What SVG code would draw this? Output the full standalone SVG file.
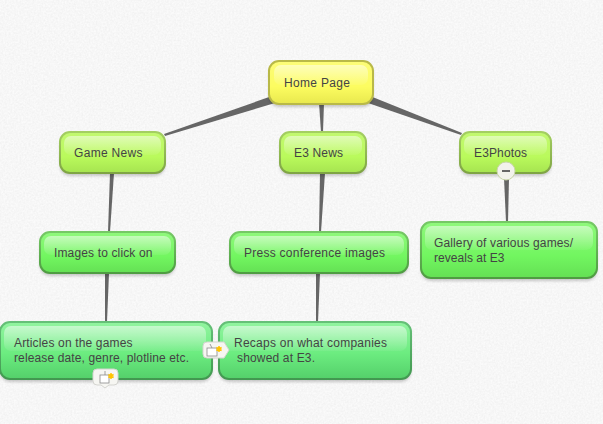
<svg xmlns="http://www.w3.org/2000/svg" width="603" height="424" viewBox="0 0 603 424">
<style>
text{font-family:"Liberation Sans",Arial,sans-serif;font-size:12px;fill:#444}
.sh{fill:#000;opacity:.2;filter:url(#blur)}
.gl{fill:url(#gloss)}
.yl{fill:url(#yellow);stroke:#b9b948;stroke-width:2}
.lm{fill:url(#lime);stroke:url(#limeS);stroke-width:2}
.gr{fill:url(#green);stroke:url(#greenS);stroke-width:2}
.dg{fill:url(#deep);stroke:url(#deepS);stroke-width:2}
.conn{fill:#666}
.tag{fill:#f6f6f2;stroke:#d4d4d0;stroke-width:1}
.ic{fill:#fff;stroke:#8a8a8a;stroke-width:.8}
.st{fill:none;stroke:#ffc400;stroke-width:1.5}
</style>
<defs>
<filter id="blur" x="-10%" y="-20%" width="120%" height="140%"><feGaussianBlur stdDeviation="1.800"/></filter>
<filter id="paper" x="0" y="0" width="100%" height="100%"><feTurbulence type="fractalNoise" baseFrequency=".55" numOctaves="2" seed="4"/><feColorMatrix values="0 0 0 0 .55  0 0 0 0 .55  0 0 0 0 .55  .28 0 0 0 -.06"/></filter>
<linearGradient id="yellow" x1="0" y1="0" x2="0" y2="1"><stop offset="0" stop-color="#fcfc78"/><stop offset=".6" stop-color="#fcfc60"/><stop offset="1" stop-color="#e8e84e"/></linearGradient>
<linearGradient id="lime" x1="0" y1="0" x2="0" y2="1"><stop offset="0" stop-color="#c2f870"/><stop offset=".6" stop-color="#bafa5c"/><stop offset="1" stop-color="#a6e450"/></linearGradient>
<linearGradient id="limeS" x1="0" y1="0" x2="0" y2="1"><stop offset="0" stop-color="#a4cf62"/><stop offset="1" stop-color="#7fa444"/></linearGradient>
<linearGradient id="green" x1="0" y1="0" x2="0" y2="1"><stop offset="0" stop-color="#90f87c"/><stop offset=".6" stop-color="#72f660"/><stop offset="1" stop-color="#64e054"/></linearGradient>
<linearGradient id="greenS" x1="0" y1="0" x2="0" y2="1"><stop offset="0" stop-color="#76c866"/><stop offset="1" stop-color="#4f9c42"/></linearGradient>
<linearGradient id="deep" x1="0" y1="0" x2="0" y2="1"><stop offset="0" stop-color="#92f4a0"/><stop offset=".55" stop-color="#6cec80"/><stop offset="1" stop-color="#54d06a"/></linearGradient>
<linearGradient id="deepS" x1="0" y1="0" x2="0" y2="1"><stop offset="0" stop-color="#66c078"/><stop offset="1" stop-color="#429850"/></linearGradient>
<linearGradient id="gloss" x1="0" y1="0" x2="0" y2="1"><stop offset="0" stop-color="#fff" stop-opacity=".5"/><stop offset="1" stop-color="#fff" stop-opacity=".06"/></linearGradient>
</defs>
<rect width="603" height="424" fill="#fbfbfb"/>
<rect width="603" height="424" filter="url(#paper)"/>
<g id="connectors">
<polygon class="conn" points="272,96 275,103 165,136 164,134"/>
<polygon class="conn" points="319,103 324,103 323,132 321,132"/>
<polygon class="conn" points="370,96 368,103 461,135 462,133"/>
<polygon class="conn" points="110,173 114,173 110,232 108,232"/>
<polygon class="conn" points="320,173 325,173 321,232 319,232"/>
<polygon class="conn" points="504,178 509,178 508,222 506,222"/>
<polygon class="conn" points="105,273 109,273 107,322 105,322"/>
<polygon class="conn" points="316,273 320,273 318,322 316,322"/>
</g>
<g id="home"><rect class="sh" x="269" y="64" width="104" height="43" rx="10"/><rect class="yl" x="269" y="61" width="104" height="43" rx="10"/><rect class="gl" x="274" y="65" width="94" height="20" rx="7"/><text x="284" y="87" textLength="66">Home Page</text></g>
<g id="game-news"><rect class="sh" x="60" y="135" width="105" height="41" rx="10"/><rect class="lm" x="60" y="132" width="105" height="41" rx="10"/><rect class="gl" x="64" y="136" width="97" height="19" rx="7"/><text x="74" y="157" textLength="68.500">Game News</text></g>
<g id="e3-news"><rect class="sh" x="280" y="135" width="86" height="41" rx="10"/><rect class="lm" x="280" y="132" width="86" height="41" rx="10"/><rect class="gl" x="284" y="136" width="78" height="19" rx="7"/><text x="294" y="157" textLength="49">E3 News</text></g>
<g id="e3photos"><rect class="sh" x="460" y="135" width="91" height="41" rx="10"/><rect class="lm" x="460" y="132" width="91" height="41" rx="10"/><rect class="gl" x="464" y="136" width="83" height="19" rx="7"/><text x="474" y="157" textLength="53">E3Photos</text>
<circle cx="506" cy="171" r="9" fill="#f2f2ec" stroke="#c9d6a8"/><rect x="502" y="170" width="8" height="2" fill="#666"/></g>
<g id="images"><rect class="sh" x="40" y="235" width="135" height="41" rx="10"/><rect class="gr" x="40" y="232" width="135" height="41" rx="10"/><rect class="gl" x="44" y="236" width="127" height="19" rx="7"/><text x="54" y="257" textLength="98.500">Images to click on</text></g>
<g id="press"><rect class="sh" x="230" y="235" width="178" height="41" rx="10"/><rect class="gr" x="230" y="232" width="178" height="41" rx="10"/><rect class="gl" x="234" y="236" width="170" height="19" rx="7"/><text x="244" y="257" textLength="141">Press conference images</text></g>
<g id="gallery"><rect class="sh" x="421" y="225" width="176" height="56" rx="10"/><rect class="gr" x="421" y="222" width="176" height="56" rx="10"/><rect class="gl" x="425" y="226" width="168" height="24" rx="7"/><text x="434" y="247" textLength="139">Gallery of various games/</text><text x="434" y="262" textLength="70.500">reveals at E3</text></g>
<g id="articles"><rect class="sh" x="0" y="325" width="212" height="57" rx="10"/><rect class="dg" x="0" y="322" width="212" height="57" rx="10"/><rect class="gl" x="4" y="326" width="202" height="25" rx="7"/><text x="14" y="347" textLength="118.500">Articles on the games</text><text x="14" y="362" textLength="175">release date, genre, plotline etc.</text>
<path class="tag" d="M97 369H114a4 4 0 0 1 4 4V381a4 4 0 0 1-4 4H109L105 388L101 385H97a4 4 0 0 1-4-4V373a4 4 0 0 1 4-4Z"/><rect class="ic" x="100" y="375" width="9" height="8"/><path class="ic" d="M105 375V371"/><path class="st" d="M111 373V379M108.400 374.500L113.600 377.500M113.600 374.500L108.400 377.500"/></g>
<g id="recaps"><rect class="sh" x="219" y="325" width="192" height="57" rx="10"/><rect class="dg" x="219" y="322" width="192" height="57" rx="10"/><rect class="gl" x="223" y="326" width="184" height="25" rx="7"/><text x="234" y="347" textLength="153">Recaps on what companies</text><text x="237" y="362" textLength="78">showed at E3.</text>
<path class="tag" d="M207 342H224L229 350L224 358H207a4 4 0 0 1-4-4V346a4 4 0 0 1 4-4Z"/><rect class="ic" x="207" y="348" width="10" height="8"/><path class="ic" d="M212 348L210 344"/><path class="st" d="M219 346V352M216.400 347.500L221.600 350.500M221.600 347.500L216.400 350.500"/></g>
</svg>
